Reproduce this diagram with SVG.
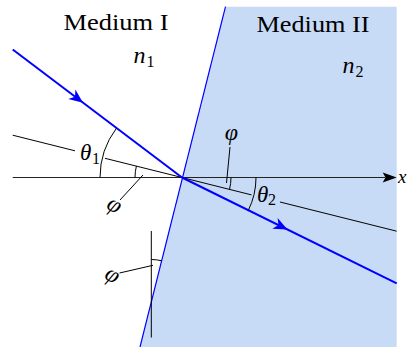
<svg xmlns="http://www.w3.org/2000/svg" width="408" height="347" viewBox="0 0 408 347">
<style>
.thin{stroke:#000;stroke-width:1;fill:none}
.axis{stroke:#222;stroke-width:1.2;fill:none}
.ray{stroke:#0000ff;stroke-width:2;fill:none}
.iface{stroke:#0000ff;stroke-width:1.2;fill:none}
.head{fill:#0000ff;stroke:none}
.txt{font-family:"Liberation Serif","DejaVu Serif","Times New Roman",serif;fill:#000}
.mi{font-family:"Liberation Serif","DejaVu Serif","Times New Roman",serif;font-style:italic;fill:#000}
</style>
<rect width="408" height="347" fill="#fff"/>
<g id="medium2-region">
<polygon points="225.5,6.7 396.7,6.7 396.7,347 140,347" fill="#c8dbf6"/>
</g>
<g id="connectors">
<line class="iface" x1="225.5" y1="6.7" x2="140" y2="347"/>
<line class="axis" x1="12.7" y1="177.5" x2="385" y2="177.5"/>
<polygon points="396.7,177.5 382.7,172.5 385.5,177.5 382.7,182.5" fill="#000"/>
<line class="thin" x1="12.7" y1="135.2" x2="75" y2="150.8"/>
<line class="thin" x1="105" y1="158.3" x2="182" y2="177.5"/>
<line class="thin" x1="182" y1="177.5" x2="251.5" y2="194.9"/>
<line class="thin" x1="280" y1="202" x2="396.7" y2="231.2"/>
<line class="ray" x1="12.7" y1="49.5" x2="182" y2="177.5"/>
<polygon class="head" points="83,102.7 68.2,99.1 75,96.7 75.4,89.5"/>
<line class="ray" x1="182" y1="177.5" x2="396.7" y2="283.3"/>
<polygon class="head" points="287.5,229.5 272.3,228.7 278.5,225.1 277.6,217.9"/>
<path class="thin" d="M100,177.5 A82,82 0 0 1 116.6,128"/>
<path class="thin" d="M135,177.5 A47,47 0 0 1 136.4,166.1"/>
<path class="thin" d="M231,177.5 A49,49 0 0 1 229.5,189.4"/>
<path class="thin" d="M256,177.5 A74,74 0 0 1 248.4,210.2"/>
<line class="thin" x1="151.3" y1="231" x2="151.3" y2="337.5"/>
<path class="thin" d="M151.3,259.5 A43.5,43.5 0 0 1 161.8,260.8"/>
<line class="thin" x1="143" y1="175" x2="120" y2="200"/>
<line class="thin" x1="230" y1="147" x2="226.5" y2="183"/>
<line class="thin" x1="119.5" y1="273" x2="153" y2="265.3"/>
</g>
<g id="label-medium1"><text class="txt" x="63.5" y="29.5" font-size="24" textLength="105" lengthAdjust="spacingAndGlyphs">Medium I</text></g>
<g id="label-medium2"><text class="txt" x="256.5" y="31.5" font-size="24" textLength="113" lengthAdjust="spacingAndGlyphs">Medium II</text></g>
<g id="label-n1"><text class="mi" x="133.5" y="63" font-size="24">n</text><text class="txt" x="146.5" y="67" font-size="16">1</text></g>
<g id="label-n2"><text class="mi" x="342.5" y="73" font-size="24">n</text><text class="txt" x="355.5" y="77" font-size="16">2</text></g>
<g id="label-theta1"><text class="mi" x="80" y="160" font-size="23">θ</text><text class="txt" x="92" y="164" font-size="16">1</text></g>
<g id="label-theta2"><text class="mi" x="257" y="201.5" font-size="23">θ</text><text class="txt" x="268" y="205" font-size="16">2</text></g>
<g id="label-x"><text class="mi" x="398" y="183" font-size="19">x</text></g>
<g id="label-phi-top"><text class="mi" x="231.5" y="140" font-size="24" text-anchor="middle">φ</text></g>
<g id="label-phi-left"><text class="mi" x="0" y="0" font-size="24" text-anchor="middle" transform="translate(111,211) rotate(30)">φ</text></g>
<g id="label-phi-bottom"><text class="mi" x="0" y="0" font-size="24" text-anchor="middle" transform="translate(109,281) rotate(30)">φ</text></g>
</svg>
